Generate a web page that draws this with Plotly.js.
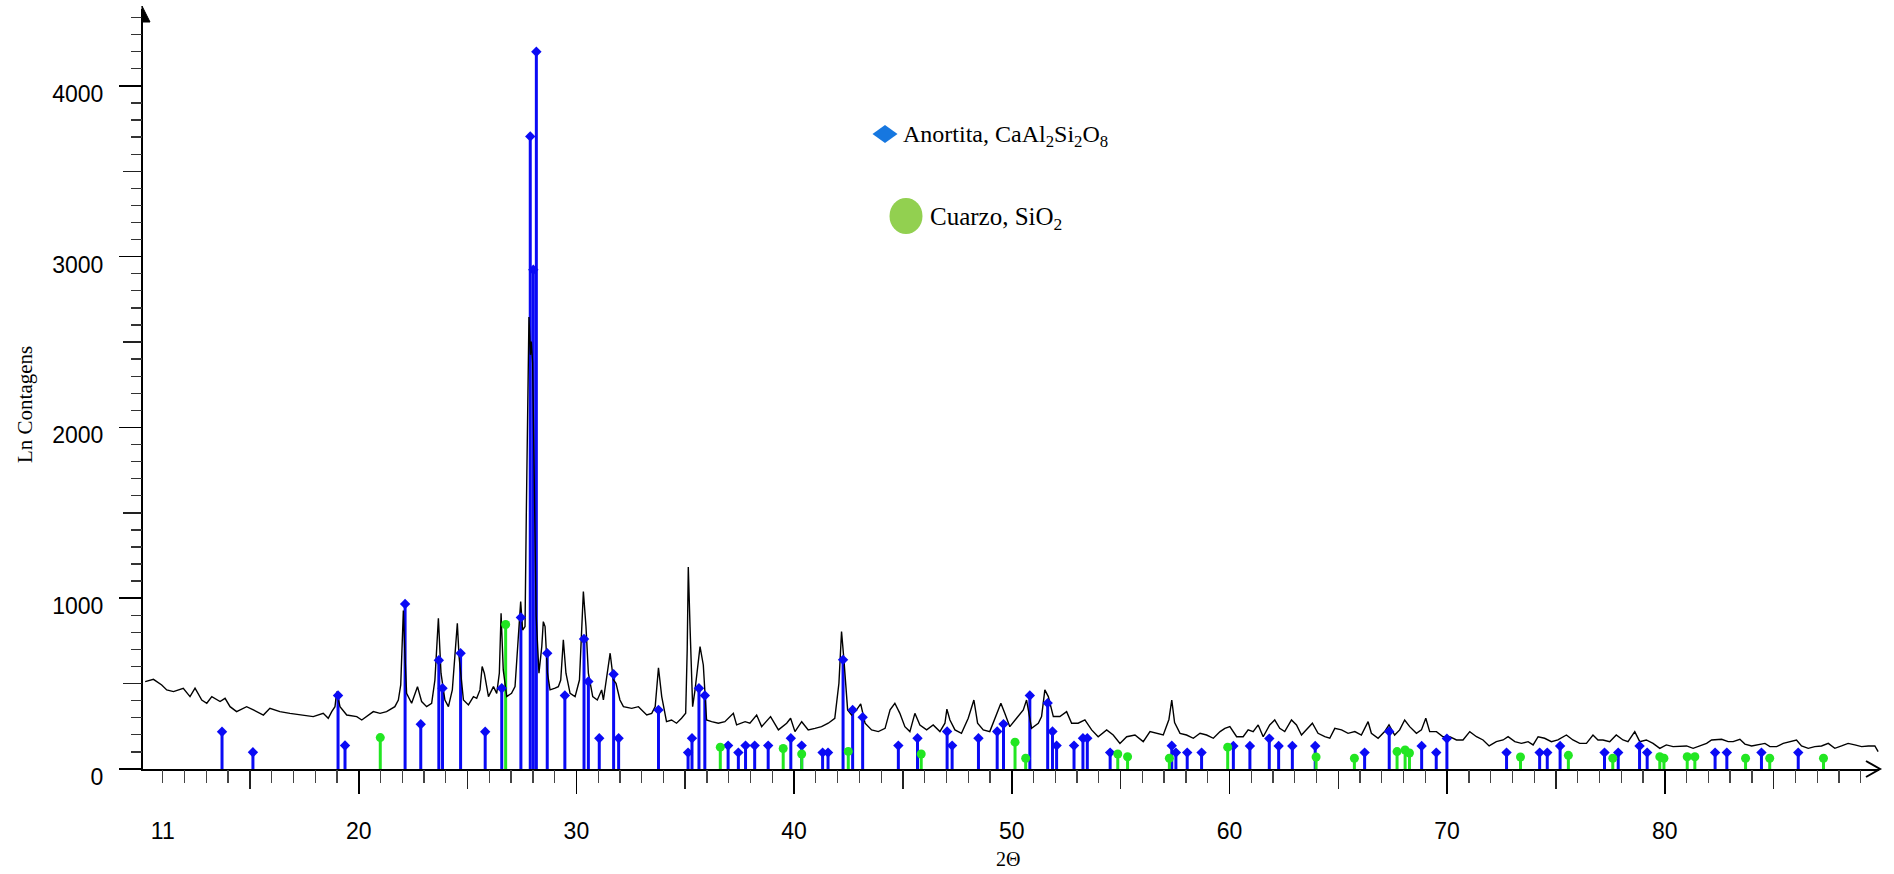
<!DOCTYPE html>
<html><head><meta charset="utf-8">
<script src="https://cdn.plot.ly/plotly-3.0.1.min.js"></script>
<style>html,body{margin:0;padding:0;background:#fff}#chart{width:1894px;height:874px}</style>
</head><body><div id="chart"></div>
<script>
// ---- measured diffraction pattern (2Θ, counts) ----
const twoTheta = [
10.19,10.57,10.95,11.18,11.49,11.94,12.25,12.48,12.79,13.02,13.25,13.63,13.86,14.09,14.39,14.85,15.16,15.62,15.92,16.38,
16.84,17.30,17.91,18.37,18.60,18.76,18.91,18.99,19.14,19.45,19.91,20.14,20.37,20.67,20.98,21.28,21.66,21.82,21.93,22.05,
22.12,22.20,22.43,22.70,22.89,23.12,23.35,23.50,23.66,23.78,23.96,24.12,24.30,24.53,24.61,24.81,25.04,25.27,25.42,25.57,
25.67,25.77,25.96,26.19,26.34,26.46,26.54,26.64,26.80,27.02,27.18,27.33,27.44,27.53,27.64,27.70,27.76,27.82,27.89,27.93,
27.99,28.07,28.15,28.28,28.41,28.48,28.56,28.67,28.79,29.02,29.17,29.28,29.40,29.52,29.71,29.94,30.14,30.32,30.44,30.55,
30.75,30.96,31.16,31.24,31.39,31.55,31.70,31.82,32.00,32.16,32.54,32.85,33.23,33.46,33.62,33.77,33.92,34.14,34.37,34.60,
34.83,35.02,35.09,35.14,35.22,35.34,35.45,35.68,35.83,35.98,36.21,36.52,36.82,37.21,37.36,37.75,37.97,38.28,38.51,38.92,
39.28,39.66,39.84,40.04,40.35,40.65,40.96,41.26,41.57,41.87,42.06,42.18,42.29,42.46,42.64,42.87,43.06,43.26,43.56,43.87,
44.18,44.41,44.63,44.86,45.09,45.32,45.55,45.78,46.09,46.39,46.70,46.93,47.02,47.16,47.39,47.69,48.00,48.26,48.43,48.69,
48.99,49.22,49.50,49.68,49.91,50.22,50.53,50.68,50.91,51.22,51.37,51.52,51.68,51.91,52.21,52.52,52.75,53.05,53.36,53.67,
53.97,54.36,54.66,54.97,55.28,55.66,56.04,56.35,56.66,56.96,57.22,57.35,57.48,57.73,58.03,58.34,58.65,58.95,59.26,59.57,
59.79,60.02,60.33,60.63,60.86,61.09,61.32,61.55,61.85,62.08,62.31,62.54,62.85,63.08,63.31,63.54,63.81,64.07,64.38,64.61,
64.84,65.15,65.45,65.76,66.06,66.37,66.52,66.83,67.13,67.33,67.59,67.82,68.05,68.28,68.59,68.82,69.02,69.20,69.51,69.81,
70.12,70.43,70.73,71.04,71.35,71.65,71.93,72.26,72.57,72.80,73.11,73.41,73.72,73.95,74.18,74.48,74.79,75.09,75.48,75.78,
76.09,76.40,76.70,76.93,77.16,77.47,77.77,78.08,78.31,78.62,78.85,79.15,79.46,79.77,80.07,80.38,80.69,81.00,81.30,81.61,
81.92,82.15,82.38,82.61,82.91,83.14,83.45,83.68,83.99,84.29,84.60,84.83,85.14,85.44,85.75,86.05,86.28,86.59,86.89,87.20,
87.51,87.81,88.12,88.42,88.73,89.04,89.35,89.65,89.80
];
const counts = [
512,525,492,463,453,473,424,473,404,385,424,395,414,365,336,365,346,316,355,336,
326,316,307,326,297,336,365,453,365,316,307,287,307,336,326,336,365,404,492,928,
678,443,385,482,395,365,385,521,883,561,404,365,463,853,658,404,375,424,414,463,
600,561,424,482,443,561,912,580,424,443,482,756,980,814,834,1500,2279,2646,2425,2503,
2377,1600,900,561,717,863,834,561,463,473,482,521,756,561,443,424,521,1039,834,561,
424,404,463,404,541,678,521,502,404,365,355,365,316,326,365,593,424,277,287,268,
297,326,697,1182,834,365,463,717,609,287,277,268,277,326,258,277,268,316,248,307,
229,268,297,219,277,229,238,248,268,297,502,805,639,346,316,346,381,268,229,219,
238,346,385,326,248,219,326,258,229,258,219,268,350,287,229,209,297,404,268,229,
219,297,385,326,248,297,346,404,238,268,307,463,424,307,307,336,268,268,287,229,
189,229,199,150,189,199,160,219,209,199,290,404,272,209,199,180,209,199,180,219,
238,248,189,189,229,219,258,189,258,287,238,219,287,258,199,229,268,209,189,180,
238,229,209,219,199,277,209,180,219,258,199,229,287,248,209,229,297,219,219,189,
189,170,170,219,189,170,135,160,170,189,160,150,160,141,189,180,160,170,199,170,
150,150,199,170,170,160,199,170,160,219,160,170,150,121,141,131,131,135,121,135,
150,170,170,174,160,160,174,146,135,141,150,131,131,150,160,170,135,121,131,135,
150,121,135,150,141,131,135,135,102
];

// ---- reference patterns (stick positions and intensities) ----
const anorthitePos = [
13.72,15.14,19.05,19.37,22.13,22.85,23.68,23.85,24.68,25.81,26.57,27.45,27.88,28.02,28.16,28.66,29.47,30.35,30.55,31.05,
31.71,31.94,33.77,35.13,35.31,35.63,35.90,36.97,37.44,37.77,38.19,38.81,39.85,40.35,41.31,41.56,42.25,42.69,43.15,44.79,
45.67,47.03,47.26,48.47,49.33,49.62,50.83,51.65,51.87,52.06,52.86,53.27,53.47,54.52,57.35,57.54,58.06,58.72,60.18,60.94,
61.83,62.26,62.89,63.94,66.21,67.34,68.83,69.50,69.99,72.73,74.25,74.60,75.19,77.23,77.86,78.84,79.19,82.31,82.85,84.44,
86.13
];
const anorthiteInt = [
218,98,430,138,966,262,637,473,678,218,473,887,3704,2923,4200,678,430,761,512,180,
555,180,346,96,180,473,430,137,96,137,137,137,180,137,96,96,639,346,303,137,
180,220,137,180,220,263,430,386,220,137,137,180,180,96,136,96,96,96,135,135,
178,135,135,135,96,220,135,96,178,96,96,96,135,96,96,135,96,96,96,96,
96
];
const quartzPos = [
20.99,26.75,36.61,39.50,40.35,42.49,45.84,50.15,50.64,54.87,55.32,57.24,59.92,63.98,65.74,67.70,68.07,68.27,73.37,75.57,
77.61,79.77,79.96,81.03,81.38,83.71,84.82,87.29
];
const quartzInt = [
184,846,128,120,88,103,88,157,63,88,72,63,128,70,63,102,111,94,70,80,
63,72,63,72,72,63,63,63
];

// ---- labels ----
const xTickVals = [11,20,30,40,50,60,70,80];
const xTickText = ['11','20','30','40','50','60','70','80'];
const yTickVals = [0,1000,2000,3000,4000];
const yTickText = ['0','1000','2000','3000','4000'];
const legendLabels = ['Anortita, CaAl<sub>2</sub>Si<sub>2</sub>O<sub>8</sub>','Cuarzo, SiO<sub>2</sub>'];
const xTitle = '2Θ';
const yTitle = 'Ln Contagens';

function sticks(pos, val){
  const x=[], y=[];
  pos.forEach((p,i)=>{ x.push(p,p,null); y.push(0,val[i],null); });
  return {x, y};
}
const aS = sticks(anorthitePos, anorthiteInt);
const qS = sticks(quartzPos, quartzInt);

const BLUE = '#0A0AF5', GREEN = '#22E622';
const X_RANGE = [10.09, 89.84], Y_RANGE = [0, 4450];
const sans = 'Liberation Sans, Arial, sans-serif';
const serif = 'Liberation Serif, Times New Roman, serif';

const data = [
  {type:'scatter', mode:'lines', x:aS.x, y:aS.y, line:{color:BLUE, width:3}, hoverinfo:'skip', showlegend:false},
  {type:'scatter', mode:'lines', x:qS.x, y:qS.y, line:{color:GREEN, width:3}, hoverinfo:'skip', showlegend:false},
  {type:'scatter', mode:'lines', x:twoTheta, y:counts, line:{color:'#000', width:1.4}, showlegend:false},
  {type:'scatter', mode:'markers', x:anorthitePos, y:anorthiteInt, marker:{symbol:'diamond', size:8, color:BLUE}, showlegend:false},
  {type:'scatter', mode:'markers', x:quartzPos, y:quartzInt, marker:{symbol:'circle', size:9, color:GREEN}, showlegend:false},
  {type:'scatter', x:[], y:[], xaxis:'x2', yaxis:'y2', showlegend:false, hoverinfo:'skip'},
  {type:'scatter', x:[], y:[], xaxis:'x3', yaxis:'y3', showlegend:false, hoverinfo:'skip'},
  {type:'scatter', x:[], y:[], xaxis:'x4', yaxis:'y4', showlegend:false, hoverinfo:'skip'}
];

function tickAxisX(dtick, len, w, col){
  return {overlaying:'x', anchor:'y', side:'bottom', range:X_RANGE, tickmode:'linear', tick0:0, dtick:dtick,
    ticks:'outside', ticklen:len, tickwidth:w, tickcolor:col, showticklabels:false, showgrid:false, zeroline:false, showline:false};
}
function tickAxisY(dtick, len, w, col){
  return {overlaying:'y', anchor:'x', side:'left', range:Y_RANGE, tickmode:'linear', tick0:0, dtick:dtick,
    ticks:'outside', ticklen:len, tickwidth:w, tickcolor:col, showticklabels:false, showgrid:false, zeroline:false, showline:false};
}

const W = 1894, H = 874, L = 143, R = 15, T = 9, B = 105;
const PW = W - L - R, PH = H - T - B;
const px = v => (v - L) / PW;
const py = v => (H - B - v) / PH;

const layout = {
  width:W, height:H, margin:{l:L, r:R, t:T, b:B, pad:0},
  paper_bgcolor:'#fff', plot_bgcolor:'#fff', showlegend:false,
  font:{family:sans, color:'#000'},
  xaxis:{range:X_RANGE, tickmode:'array', tickvals:xTickVals, ticktext:xTickText,
    ticks:'outside', ticklen:40, tickcolor:'rgba(0,0,0,0)', tickfont:{family:sans, size:23, color:'#000'},
    showgrid:false, zeroline:false, showline:true, linecolor:'#000', linewidth:2},
  yaxis:{range:Y_RANGE, tickmode:'array', tickvals:yTickVals, ticktext:yTickText,
    ticks:'outside', ticklen:33, tickcolor:'rgba(0,0,0,0)', tickfont:{family:sans, size:23, color:'#000'},
    ticklabelshift:8,
    showgrid:false, zeroline:false, showline:true, linecolor:'#000', linewidth:2},
  xaxis2:tickAxisX(1, 13, 1.3, '#444'),
  xaxis3:tickAxisX(5, 19, 1.5, '#222'),
  xaxis4:tickAxisX(10, 24, 1.6, '#000'),
  yaxis2:tickAxisY(100, 11, 1.3, '#333'),
  yaxis3:tickAxisY(500, 19, 1.5, '#222'),
  yaxis4:tickAxisY(1000, 23, 1.6, '#000'),
  annotations:[
    {xref:'paper', yref:'paper', x:px(25), y:py(405), text:yTitle, textangle:-90, showarrow:false,
      xanchor:'center', yanchor:'middle', font:{family:serif, size:21, color:'#000'}},
    {xref:'paper', yref:'paper', x:px(1008), y:py(859), text:xTitle, showarrow:false,
      xanchor:'center', yanchor:'middle', font:{family:serif, size:20, color:'#000'}},
    {xref:'paper', yref:'paper', x:px(901), y:py(136), text:legendLabels[0], showarrow:false,
      xanchor:'left', yanchor:'middle', font:{family:serif, size:24, color:'#000'}},
    {xref:'paper', yref:'paper', x:px(928), y:py(218), text:legendLabels[1], showarrow:false,
      xanchor:'left', yanchor:'middle', font:{family:serif, size:25, color:'#000'}}
  ],
  shapes:[
    {type:'path', xref:'paper', yref:'paper',
      path:`M ${px(872.5)},${py(134)} L ${px(885)},${py(125)} L ${px(897.5)},${py(134)} L ${px(885)},${py(143)} Z`,
      fillcolor:'#1677E0', line:{width:0}},
    {type:'circle', xref:'paper', yref:'paper', x0:px(889.5), x1:px(922.5), y0:py(234), y1:py(198),
      fillcolor:'#92D050', line:{width:0}},
    {type:'path', xref:'paper', yref:'paper',
      path:`M ${px(142)},${py(6)} L ${px(150)},${py(22)} L ${px(142)},${py(22)} Z`,
      fillcolor:'#000', line:{color:'#000', width:1}},
    {type:'path', xref:'paper', yref:'paper',
      path:`M ${px(1866)},${py(761)} L ${px(1880)},${py(769)} L ${px(1866)},${py(777)}`,
      line:{color:'#000', width:2}}
  ]
};

Plotly.newPlot('chart', data, layout, {staticPlot:true, displayModeBar:false});
</script>
</body></html>
